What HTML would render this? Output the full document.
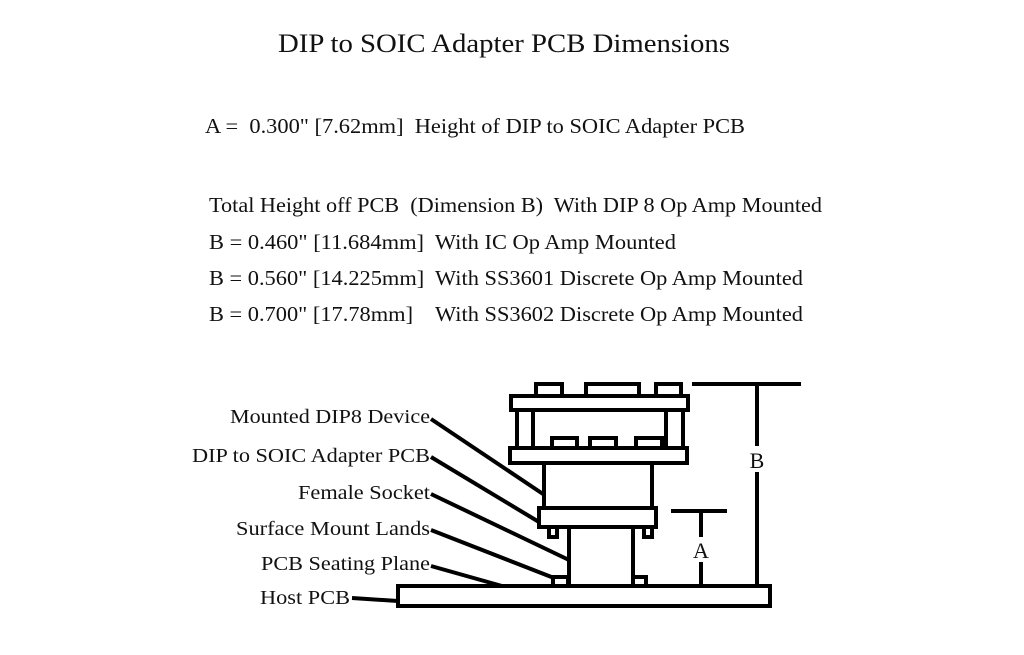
<!DOCTYPE html>
<html><head><style>
body{margin:0;background:#fff;}
svg{display:block;}
text{font-family:"Liberation Serif",serif;fill:#111;white-space:pre;}
</style></head><body>
<svg width="1024" height="655" viewBox="0 0 1024 655" xml:space="preserve">
<text x="278" y="52" font-size="26" textLength="452" lengthAdjust="spacingAndGlyphs">DIP to SOIC Adapter PCB Dimensions</text>
<g font-size="21">
<text x="205" y="133" textLength="540" lengthAdjust="spacingAndGlyphs">A =  0.300" [7.62mm]  Height of DIP to SOIC Adapter PCB</text>
<text x="209" y="212" textLength="613" lengthAdjust="spacingAndGlyphs">Total Height off PCB  (Dimension B)  With DIP 8 Op Amp Mounted</text>
<text x="209" y="249" textLength="467" lengthAdjust="spacingAndGlyphs">B = 0.460" [11.684mm]  With IC Op Amp Mounted</text>
<text x="209" y="285" textLength="594" lengthAdjust="spacingAndGlyphs">B = 0.560" [14.225mm]  With SS3601 Discrete Op Amp Mounted</text>
<text x="209" y="321" textLength="594" lengthAdjust="spacingAndGlyphs">B = 0.700" [17.78mm]    With SS3602 Discrete Op Amp Mounted</text>
</g>
<g font-size="20">
<text x="230" y="423" textLength="200" lengthAdjust="spacingAndGlyphs">Mounted DIP8 Device</text>
<text x="192" y="462" textLength="238" lengthAdjust="spacingAndGlyphs">DIP to SOIC Adapter PCB</text>
<text x="298" y="499" textLength="132" lengthAdjust="spacingAndGlyphs">Female Socket</text>
<text x="236" y="535" textLength="194" lengthAdjust="spacingAndGlyphs">Surface Mount Lands</text>
<text x="261" y="570" textLength="169" lengthAdjust="spacingAndGlyphs">PCB Seating Plane</text>
<text x="260" y="604" textLength="90" lengthAdjust="spacingAndGlyphs">Host PCB</text>
</g>
<g stroke="#000" stroke-width="4" fill="#fff">
<rect x="536" y="384" width="26" height="12"/>
<rect x="586" y="384" width="53" height="12"/>
<rect x="656" y="384" width="25" height="12"/>
<rect x="517" y="408" width="16" height="40"/>
<rect x="666" y="408" width="17" height="40"/>
<rect x="511" y="396" width="177" height="14"/>
<rect x="552" y="438" width="25" height="10"/>
<rect x="590" y="438" width="26" height="10"/>
<rect x="636" y="438" width="26" height="10"/>
<rect x="510" y="448" width="177" height="15"/>
<rect x="544" y="463" width="108" height="46"/>
<rect x="549" y="525" width="8" height="12"/>
<rect x="644" y="525" width="8" height="12"/>
<rect x="569" y="526" width="64" height="60"/>
<rect x="539" y="508" width="117" height="19"/>
<rect x="553" y="577" width="15" height="9"/>
<rect x="633" y="577" width="13" height="9"/>
<rect x="398" y="586" width="372" height="20"/>
</g>
<g stroke="#000" stroke-width="4" fill="none">
<line x1="692" y1="384" x2="801" y2="384"/>
<line x1="757" y1="384" x2="757" y2="446"/>
<line x1="757" y1="472" x2="757" y2="586"/>
<line x1="671" y1="511" x2="727" y2="511"/>
<line x1="701" y1="511" x2="701" y2="537"/>
<line x1="701" y1="562" x2="701" y2="586"/>
<line x1="431" y1="419" x2="543" y2="494"/>
<line x1="431" y1="457" x2="539" y2="522"/>
<line x1="431" y1="494" x2="569" y2="560"/>
<line x1="431" y1="530" x2="554" y2="578"/>
<line x1="431" y1="566" x2="502" y2="586"/>
<line x1="352" y1="598" x2="398" y2="601"/>
</g>
<text x="757" y="468" font-size="22" text-anchor="middle">B</text>
<text x="701" y="558" font-size="22" text-anchor="middle">A</text>
</svg>
</body></html>
